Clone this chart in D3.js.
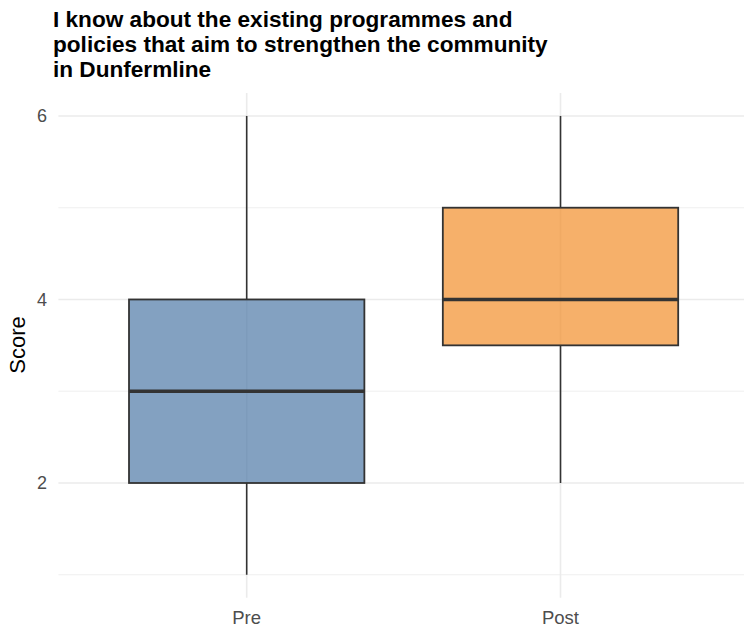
<!DOCTYPE html>
<html><head><meta charset="utf-8">
<script src="https://cdn.jsdelivr.net/npm/d3@7"></script>
<style>body{margin:0;background:#fff}svg{display:block}</style>
</head><body>
<svg id="c" width="744" height="627"></svg>
<script>
(function(){
const categories = ["Pre", "Post"];
const whiskerLow = [1, 2];
const q1 = [2, 3.5];
const median = [3, 4];
const q3 = [4, 5];
const whiskerHigh = [6, 6];
const fills = ["rgba(78,121,167,0.7)", "rgba(242,142,43,0.7)"];
const yTicks = [2, 4, 6];
const yMinor = [1, 3, 5];
const titleLines = ["I know about the existing programmes and", "policies that aim to strengthen the community", "in Dunfermline"];

const svg = d3.select("#c");
const font = "'Liberation Sans', Arial, sans-serif";
const pLeft = 58.4, pRight = 748.8, pTop = 93, pBottom = 597.7;

const x = d3.scaleBand().domain(categories).range([pLeft, pRight]).paddingOuter(0.1).paddingInner(0);
const xc = c => x(c) + x.bandwidth() / 2;
const y = d3.scaleLinear().domain([0.75, 6.25]).range([pBottom, pTop]);

svg.append("g").selectAll("text").data(titleLines).join("text")
  .attr("x", 53).attr("y", (d, i) => 27 + i * 25)
  .attr("font-family", font).attr("font-weight", "bold").attr("font-size", 22.6)
  .attr("fill", "#000").text(d => d);

const g = svg.append("g");
g.selectAll(".ymin").data(yMinor).join("line")
  .attr("x1", pLeft).attr("x2", pRight).attr("y1", d => y(d)).attr("y2", d => y(d))
  .attr("stroke", "#ebebeb").attr("stroke-width", 0.8);
g.selectAll(".ymaj").data(yTicks).join("line")
  .attr("x1", pLeft).attr("x2", pRight).attr("y1", d => y(d)).attr("y2", d => y(d))
  .attr("stroke", "#ebebeb").attr("stroke-width", 1.6);
g.selectAll(".xmaj").data(categories).join("line")
  .attr("x1", d => xc(d)).attr("x2", d => xc(d)).attr("y1", pTop).attr("y2", pBottom)
  .attr("stroke", "#ebebeb").attr("stroke-width", 1.6);

svg.append("g").selectAll("text").data(yTicks).join("text")
  .attr("x", 47).attr("y", d => y(d)).attr("dy", "0.36em").attr("text-anchor", "end")
  .attr("font-family", font).attr("font-size", 18).attr("fill", "#4d4d4d").text(d => d);
svg.append("g").selectAll("text").data(categories).join("text")
  .attr("x", d => xc(d)).attr("y", 624).attr("text-anchor", "middle")
  .attr("font-family", font).attr("font-size", 18.5).attr("fill", "#4d4d4d").text(d => d);
svg.append("text").attr("transform", `translate(25,345) rotate(-90)`)
  .attr("text-anchor", "middle").attr("font-family", font).attr("font-size", 22)
  .attr("fill", "#000").text("Score");

const bw = x.bandwidth() * 0.75;
const data = categories.map((c, i) => ({c, lo: whiskerLow[i], q1: q1[i], med: median[i], q3: q3[i], hi: whiskerHigh[i], fill: fills[i]}));
const bg = svg.append("g").selectAll("g").data(data).join("g");
bg.append("line").attr("x1", d => xc(d.c)).attr("x2", d => xc(d.c))
  .attr("y1", d => y(d.hi)).attr("y2", d => y(d.q3)).attr("stroke", "#333").attr("stroke-width", 1.6);
bg.append("line").attr("x1", d => xc(d.c)).attr("x2", d => xc(d.c))
  .attr("y1", d => y(d.q1)).attr("y2", d => y(d.lo)).attr("stroke", "#333").attr("stroke-width", 1.6);
bg.append("rect").attr("x", d => xc(d.c) - bw / 2).attr("width", bw)
  .attr("y", d => y(d.q3)).attr("height", d => y(d.q1) - y(d.q3))
  .attr("fill", d => d.fill).attr("stroke", "#333").attr("stroke-width", 1.8);
bg.append("line").attr("x1", d => xc(d.c) - bw / 2).attr("x2", d => xc(d.c) + bw / 2)
  .attr("y1", d => y(d.med)).attr("y2", d => y(d.med)).attr("stroke", "#333").attr("stroke-width", 3.6);
})();
</script>
</body></html>
